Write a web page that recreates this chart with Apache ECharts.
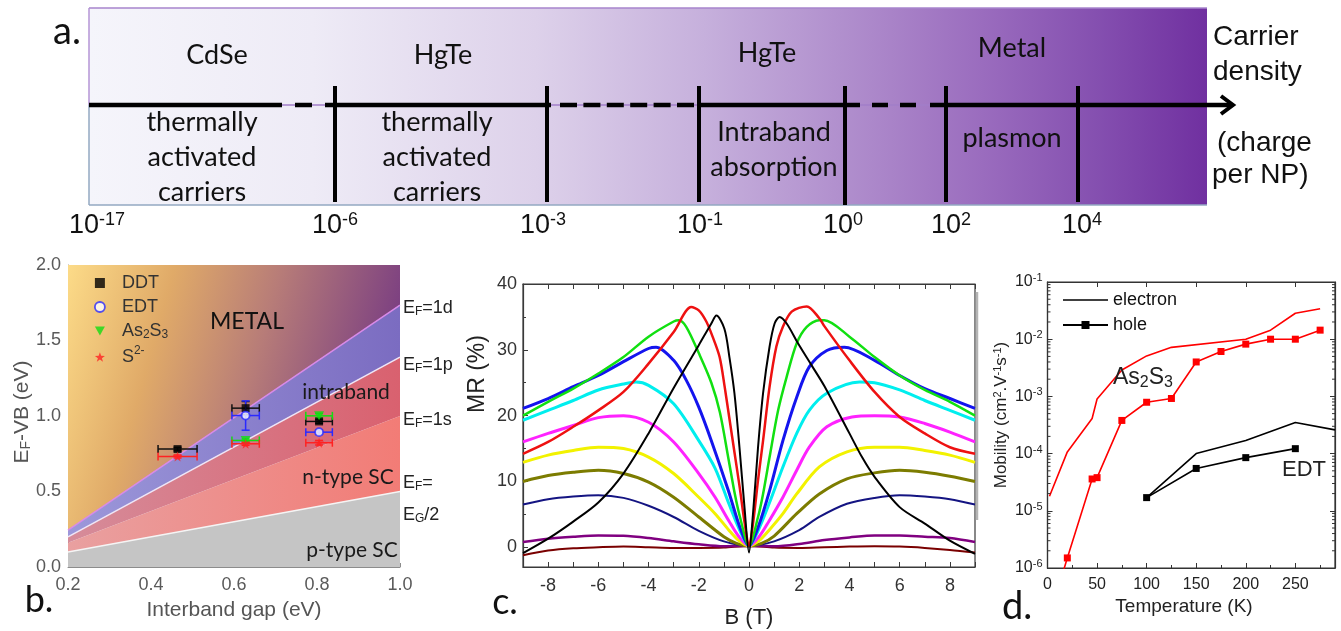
<!DOCTYPE html>
<html><head><meta charset="utf-8">
<script src="https://cdn.jsdelivr.net/npm/echarts@6/dist/echarts.min.js"></script>
<style>html,body{margin:0;padding:0;background:#fff}#main{width:1341px;height:631px}</style>
</head><body><div id="main"></div>
<script>
// ===================== DATA =====================
// Panel a (schematic carrier-density axis)
const aTickLabels = ['-17', '-6', '-3', '-1', '0', '2', '4'];
const aTopLabels = ['CdSe', 'HgTe', 'HgTe', 'Metal'];
const aBottomLabels = ['thermally\nactivated\ncarriers', 'thermally\nactivated\ncarriers', 'Intraband\nabsorption', 'plasmon'];

// Panel b: boundary lines [gap, E_F-VB]
const bLineBottom = [[0.2, 0.0], [1.0, 0.0]];
const bLineEgHalf = [[0.2, 0.10], [1.0, 0.50]];
const bLine1s = [[0.2, 0.16], [1.0, 1.00]];
const bLine1p = [[0.2, 0.20], [1.0, 1.39]];
const bLine1d = [[0.2, 0.245], [1.0, 1.735]];
const bLineTop = [[0.2, 2.0], [1.0, 2.0]];
// Panel b: measured points
const bDDT = [[0.464, 0.781], [0.628, 1.052], [0.805, 0.964]];
const bDDTxErr = [0.047, 0.033, 0.032];
const bDDTyErr = [0.012, 0.044, 0.012];
const bEDT = [[0.628, 1.003], [0.805, 0.893]];
const bEDTxErr = [0.033, 0.032];
const bEDTyErr = [0.097, 0.015];
const bAs2S3 = [[0.628, 0.838], [0.805, 1.001]];
const bAs2S3xErr = [0.033, 0.032];
const bAs2S3yErr = [0.01, 0.015];
const bS2 = [[0.464, 0.732], [0.628, 0.816], [0.805, 0.823]];
const bS2xErr = [0.047, 0.033, 0.032];
const bS2yErr = [0.01, 0.01, 0.015];

// Panel c: MR curves [B (T), MR (%)]
const cMaroon = [[-9,-1.2],[-8,-0.5],[-7,-0.15],[-6,0],[-5,0.1],[-4,0],[-3,-0.1],[-2,-0.1],[-1,-0.05],[0,0.2],[1,-0.05],[2,-0.1],[3,0],[4,0.1],[5,0.15],[6,0.1],[7,-0.1],[8,-0.4],[9,-0.8]];
const cPurple = [[-9,0.8],[-8,1.3],[-7,1.6],[-6,1.8],[-5,1.75],[-4,1.4],[-3,0.9],[-2,0.45],[-1,0.15],[0,0.2],[1,0.15],[2,0.5],[3,1.1],[4,1.5],[5,1.8],[6,1.8],[7,1.6],[8,1.4],[9,0.8]];
const cNavy = [[-9,6.5],[-8,7.3],[-7,7.7],[-6,7.9],[-5,7.5],[-4,6.3],[-3,4.6],[-2,2.5],[-1,0.9],[0,0.2],[1,0.9],[2,2.6],[2.8,4.6],[3.9,6.6],[5,7.5],[6,7.9],[7,7.7],[8,7.3],[9,6.5]];
const cOlive = [[-9,10],[-8,10.9],[-7,11.4],[-6,11.7],[-5,11.2],[-4,9.9],[-3,7.6],[-2,4.6],[-1,1.6],[-0.5,0.6],[0,0.2],[0.5,0.6],[1,1.7],[1.9,5.1],[2.8,8.1],[3.9,10.4],[5,11.3],[6,11.7],[7,11.4],[8,10.8],[9,10]];
const cYellow = [[-9,12.9],[-8,14],[-7,14.7],[-6,15.2],[-5,15],[-4,13.7],[-3,11.2],[-2,7.6],[-1.35,5.1],[-0.8,2.6],[-0.4,1],[0,0.2],[0.4,1],[0.8,2.6],[1.35,5.1],[1.9,8.1],[2.8,12.2],[3.9,14.5],[5,15.2],[6,15.2],[7,14.7],[8,14],[9,12.9]];
const cMagenta = [[-9,16],[-8,17.3],[-7,18.5],[-6,19.7],[-5,20],[-4,19],[-3,16],[-2,11.2],[-1.35,7.6],[-0.8,4],[-0.4,1.6],[0,0.2],[0.4,1.6],[0.8,4],[1.35,7.6],[1.9,11.7],[2.4,15.2],[3.1,18.3],[4.1,19.8],[5,20],[6,19.8],[7,18.8],[8,17.5],[9,16]];
const cCyan = [[-9,19.3],[-8,20.8],[-7,22.3],[-6,23.9],[-5,24.8],[-4.5,25.1],[-4,24.6],[-3,21.8],[-2,16.2],[-1.35,12],[-0.8,6.6],[-0.36,2.5],[0,0.2],[0.36,2.5],[0.8,6.6],[1.35,12.2],[1.9,17.3],[2.4,20.8],[3.1,23.4],[4.4,25.1],[5,25],[6,23.9],[7,22.3],[8,20.8],[9,19.3]];
const cBlue = [[-9,21.1],[-8,22.6],[-7,24.4],[-6,26.1],[-5,28.2],[-4,30.2],[-3.7,30.4],[-3,28.4],[-2.5,25.4],[-2,21.3],[-1.5,16.2],[-0.82,8.6],[-0.36,3],[0,0.2],[0.36,3],[0.82,8.6],[1.35,16.2],[1.9,22.8],[2.4,27.4],[3.1,29.9],[3.8,30.4],[5,28.4],[6,26.1],[7,24.1],[8,22.6],[9,21.1]];
const cGreen = [[-9,20],[-8,22.1],[-7,24.1],[-6,26.4],[-5,28.9],[-4,32],[-3,34.3],[-2.8,34.5],[-2.5,33.5],[-2,29.5],[-1.5,25],[-1.16,20.5],[-0.82,13.5],[-0.56,8],[-0.36,4.6],[0,0.2],[0.36,4.6],[0.56,8.1],[0.82,13.7],[1.16,20.8],[1.5,25.9],[1.9,31],[2.3,33.5],[2.8,34.5],[3,34.5],[4,32],[5,28.9],[6,26.1],[7,23.9],[8,22.1],[9,20]];
const cRed = [[-9,14.2],[-8,16],[-7,18.3],[-6,20.8],[-5,23.6],[-4,27.9],[-3,32.7],[-2.3,36.5],[-2,36],[-1.7,34.3],[-1.45,32],[-1.17,28.9],[-0.97,24.4],[-0.77,19.3],[-0.57,14.2],[-0.37,9.1],[-0.17,3.6],[0,0.2],[0.16,3.6],[0.36,10.2],[0.56,16.2],[0.82,24.4],[1.09,30.5],[1.35,33.5],[1.7,35.8],[2.3,36.6],[2.8,34.8],[3,33.6],[4,28.4],[5,23.6],[6,19.8],[7,17.3],[8,15.2],[9,14.2]];
const cBlack = [[-9,-0.9],[-8,1.3],[-7,3.9],[-6,6.8],[-5,11.2],[-4,17.3],[-3,24.2],[-2,30.7],[-1.5,34],[-1.3,35.2],[-0.98,33.2],[-0.78,28.9],[-0.58,23.4],[-0.38,15.2],[-0.18,6.1],[0,-0.8],[0.16,5.1],[0.36,15.2],[0.56,23.4],[0.82,30.5],[1.02,34],[1.22,35],[1.5,34],[1.95,31],[2.5,27.6],[3,24.5],[4,17.3],[4.5,13.7],[5,10.7],[6,6.1],[7,3.6],[8,1.0],[9,-1.0]];

// Panel d: mobility vs temperature
const dAsElecT = [2, 20, 45, 50, 75, 100, 125, 200, 225, 250, 275];
const dAsElecMu = [1.8e-5, 1.07e-4, 4.1e-4, 9e-4, 2.9e-3, 5.1e-3, 7.2e-3, 1.0e-2, 1.44e-2, 2.84e-2, 3.4e-2];
const dAsHoleT = [10, 20, 45, 50, 75, 100, 125, 150, 175, 200, 225, 250, 275];
const dAsHoleMu = [4e-7, 1.5e-6, 3.6e-5, 3.8e-5, 3.8e-4, 7.9e-4, 9.2e-4, 4.0e-3, 6.1e-3, 8.2e-3, 1.0e-2, 1.0e-2, 1.44e-2];
const dEdtElecT = [100, 150, 200, 250, 290];
const dEdtElecMu = [1.7e-5, 1.0e-4, 1.7e-4, 3.5e-4, 2.6e-4];
const dEdtHoleT = [100, 150, 200, 250];
const dEdtHoleMu = [1.7e-5, 5.5e-5, 8.5e-5, 1.22e-4];

// ===================== LAYOUT / STYLE =====================
const FA = 'Lato, "Open Sans", sans-serif';
const FS = '"Liberation Sans", Arial, sans-serif';
const zip = (xs, ys) => xs.map((x, i) => [x, ys[i]]);

const aBox = {left: 89, right: 1207, top: 8, mid: 105, bottom: 205};
const aTickX = [335, 547, 699, 845, 946, 1078];
const aTickLabelX = [97, 335, 543, 700, 843, 951, 1082];
const aTopPos = [[217, 55], [443, 55], [767, 53], [1012, 48]];
const aBottomPos = [[202, 157], [437, 157], [774, 150], [1012, 138]];

function txt(x, y, text, size, o) {
  o = o || {};
  const st = {text, fontSize: size, fontFamily: o.font || FS, fill: o.color || '#111',
    align: o.align || 'center', verticalAlign: 'middle', fontWeight: o.weight || 'normal'};
  if (o.lh) st.lineHeight = o.lh;
  if (o.rich) st.rich = o.rich;
  return {type: 'text', x, y, rotation: o.rot || 0, z: 100, style: st};
}
function seg(x1, y1, x2, y2, w, color, dash) {
  const st = {stroke: color || '#000', lineWidth: w};
  if (dash) st.lineDash = dash;
  return {type: 'line', z: 50, shape: {x1, y1, x2, y2}, style: st};
}
const supR = (s, c, up) => ({fontSize: s, lineHeight: s, fill: c, fontFamily: FS, padding: up ? [0, 0, Math.round(s * 0.65), 0] : [Math.round(s * 0.55), 0, 0, 0]});

const graphics = [];
// panel a box
graphics.push({type: 'rect', z: 10, shape: {x: aBox.left, y: aBox.top, width: aBox.right - aBox.left, height: aBox.bottom - aBox.top},
  style: {fill: new echarts.graphic.LinearGradient(0, 0, 1, 0, [
    {offset: 0, color: '#f5f5fb'}, {offset: 0.2, color: '#eeebf6'}, {offset: 0.4, color: '#ddd1ea'},
    {offset: 0.55, color: '#c6b0dc'}, {offset: 0.7, color: '#ac88ca'}, {offset: 0.8, color: '#9a6cbe'},
    {offset: 0.9, color: '#8550b0'}, {offset: 1, color: '#7030a0'}])}});
graphics.push(seg(aBox.left, aBox.top, aBox.right, aBox.top, 1.5, '#a784cc'));
graphics.push(seg(aBox.left, aBox.top, aBox.left, aBox.mid, 1.5, '#b495d6'));
graphics.push(seg(aBox.left, aBox.mid, aBox.left, aBox.bottom, 1.5, '#93a8c2'));
graphics.push(seg(aBox.left, aBox.bottom, aBox.right, aBox.bottom, 1.5, '#93a8c2'));
graphics.push(seg(aBox.left, aBox.mid, aBox.right, aBox.mid, 1.5, '#a27ec8'));
// axis line: solid and dashed parts
graphics.push(seg(89, 105, 282, 105, 4.5));
graphics.push(seg(295, 105, 312, 105, 4.5));
graphics.push(seg(325, 105, 551, 105, 4.5));
graphics.push(seg(560, 105, 694, 105, 4.5, '#000', [17, 6.4]));
graphics.push(seg(698, 105, 860, 105, 4.5));
graphics.push(seg(872, 105, 918, 105, 4.5, '#000', [16, 12]));
graphics.push(seg(930, 105, 1232, 105, 4.5));
graphics.push({type: 'polyline', z: 51, shape: {points: [[1221, 96], [1233, 105], [1221, 114]]}, style: {stroke: '#000', lineWidth: 4, fill: null}});
aTickX.forEach((x, i) => graphics.push(seg(x, 86, x, i === 3 ? 205 : 202, 4)));
aTickLabels.forEach((t, i) => graphics.push(txt(aTickLabelX[i], 226, '10{s|' + t + '}', 27,
  {rich: {s: supR(18, '#111', true)}, lh: 27})));
aTopLabels.forEach((t, i) => graphics.push(txt(aTopPos[i][0], aTopPos[i][1], t, 27, {font: FA})));
aBottomLabels.forEach((t, i) => graphics.push(txt(aBottomPos[i][0], aBottomPos[i][1], t, 27, {font: FA, lh: 35})));
graphics.push(txt(1213, 37, 'Carrier', 28, {align: 'left'}));
graphics.push(txt(1213, 72, 'density', 28, {align: 'left'}));
graphics.push(txt(1217, 143, '(charge', 28, {align: 'left'}));
graphics.push(txt(1212, 175, 'per NP)', 28, {align: 'left'}));
graphics.push(txt(67, 32, 'a.', 38, {font: FA}));

// panel b texts
graphics.push(txt(247, 322, 'METAL', 23, {font: FA}));
graphics.push(txt(346, 392, 'intraband', 21, {font: FA, color: '#1a1a1a'}));
graphics.push(txt(348, 477, 'n-type SC', 21, {font: FA, color: '#1a1a1a'}));
graphics.push(txt(352, 550, 'p-type SC', 21, {font: FA, color: '#1a1a1a'}));
const subF = {b: supR(12, '#222', false)};
graphics.push(txt(403, 308, 'E{b|F}=1d', 18, {align: 'left', color: '#222', rich: subF, lh: 18}));
graphics.push(txt(403, 365, 'E{b|F}=1p', 18, {align: 'left', color: '#222', rich: subF, lh: 18}));
graphics.push(txt(403, 420, 'E{b|F}=1s', 18, {align: 'left', color: '#222', rich: subF, lh: 18}));
graphics.push(txt(403, 483, 'E{b|F}=', 18, {align: 'left', color: '#222', rich: subF, lh: 18}));
graphics.push(txt(403, 515, 'E{b|G}/2', 18, {align: 'left', color: '#222', rich: subF, lh: 18}));
graphics.push(txt(234, 610, 'Interband gap (eV)', 21, {color: '#555'}));
graphics.push(txt(22, 412, 'E{b|F}-VB (eV)', 21, {color: '#555', rot: Math.PI / 2, lh: 21, rich: {b: supR(14, '#555', false)}}));
graphics.push(txt(39, 600, 'b.', 36, {font: FA}));

// panel c texts
graphics.push(txt(478, 374, 'MR (%)', 23, {color: '#222', rot: Math.PI / 2}));
graphics.push(txt(749, 618, 'B (T)', 22, {color: '#222'}));
graphics.push(txt(505, 602, 'c.', 36, {font: FA}));
graphics.push(seg(977, 292, 977, 520, 2.5, '#b4b4b4'));

// panel d texts
graphics.push(txt(1001, 415, 'Mobility (cm{s|2}.V{s|-1}s{s|-1})', 17, {color: '#222', rot: Math.PI / 2, lh: 17, rich: {s: supR(11, '#222', true)}}));
graphics.push(txt(1184, 607, 'Temperature (K)', 19, {color: '#222'}));
graphics.push(txt(1113, 378, 'As{b|2}S{b|3}', 23, {align: 'left', color: '#222', lh: 23, rich: {b: supR(16, '#222', false)}}));
graphics.push(txt(1282, 470, 'EDT', 22, {align: 'left', color: '#222'}));
graphics.push(txt(1017, 607, 'd.', 38, {font: FA}));

// ===================== SERIES =====================
const bBounds = [bLineBottom, bLineEgHalf, bLine1s, bLine1p, bLine1d, bLineTop];
const bBandFills = [
  '#c5c5c5',
  {type: 'linear', x: 0, y: 0, x2: 1, y2: 0, colorStops: [{offset: 0, color: '#e9a0a0'}, {offset: 1, color: '#f27c76'}]},
  {type: 'linear', x: 0, y: 0, x2: 1, y2: 0, colorStops: [{offset: 0, color: '#d68c9a'}, {offset: 1, color: '#d9616f'}]},
  {type: 'linear', x: 0, y: 0, x2: 1, y2: 0, colorStops: [{offset: 0, color: '#9c98da'}, {offset: 1, color: '#7b6cc1'}]},
  {type: 'linear', x: 0, y: 0, x2: 1, y2: 0.35, colorStops: [{offset: 0, color: '#fcdb88'}, {offset: 0.3, color: '#e0aa68'}, {offset: 0.6, color: '#b77c78'}, {offset: 1, color: '#763a82'}]}
];
const series = [];
series.push({
  type: 'custom', name: 'bands', xAxisIndex: 0, yAxisIndex: 0, silent: true, z: 1,
  data: bBandFills.map(() => [0.6, 1.0]),
  renderItem: function (params, api) {
    const lo = bBounds[params.dataIndex], hi = bBounds[params.dataIndex + 1];
    const pts = [api.coord(lo[0]), api.coord(lo[1]), api.coord(hi[1]), api.coord(hi[0])];
    return {type: 'polygon', shape: {points: pts}, style: {fill: bBandFills[params.dataIndex]}};
  }
});
const bLineStyles = [[bLineEgHalf, '#f5f5f5'], [bLine1p, '#efe6f6'], [bLine1d, '#d88ae8']];
bLineStyles.forEach(([d, c], i) => series.push({type: 'line', name: 'bnd' + i, xAxisIndex: 0, yAxisIndex: 0, data: d,
  showSymbol: false, silent: true, z: 2, lineStyle: {color: c, width: 1.5}}));

function errSeries(pts, xe, ye, color) {
  return {
    type: 'custom', name: 'err', xAxisIndex: 0, yAxisIndex: 0, z: 3, silent: true,
    data: pts.map((p, i) => [p[0], p[1], xe[i], ye[i]]),
    renderItem: function (params, api) {
      const x = api.value(0), y = api.value(1), dx = api.value(2), dy = api.value(3);
      const L = api.coord([x - dx, y]), R = api.coord([x + dx, y]);
      const T = api.coord([x, y + dy]), B = api.coord([x, y - dy]);
      const st = {stroke: color, lineWidth: 1.5};
      const ch = [
        {type: 'line', shape: {x1: L[0], y1: L[1], x2: R[0], y2: R[1]}, style: st},
        {type: 'line', shape: {x1: L[0], y1: L[1] - 4, x2: L[0], y2: L[1] + 4}, style: st},
        {type: 'line', shape: {x1: R[0], y1: R[1] - 4, x2: R[0], y2: R[1] + 4}, style: st},
        {type: 'line', shape: {x1: T[0], y1: T[1], x2: B[0], y2: B[1]}, style: st},
        {type: 'line', shape: {x1: T[0] - 4, y1: T[1], x2: T[0] + 4, y2: T[1]}, style: st},
        {type: 'line', shape: {x1: B[0] - 4, y1: B[1], x2: B[0] + 4, y2: B[1]}, style: st}
      ];
      return {type: 'group', children: ch};
    }
  };
}
const starPath = 'path://M0,-10 L2.35,-3.24 9.51,-3.09 3.8,1.24 5.88,8.09 0,4 -5.88,8.09 -3.8,1.24 -9.51,-3.09 -2.35,-3.24Z';
const triDown = 'path://M0,0 L10,0 L5,9Z';
series.push(errSeries(bDDT, bDDTxErr, bDDTyErr, '#111'));
series.push(errSeries(bEDT, bEDTxErr, bEDTyErr, '#2a2aff'));
series.push(errSeries(bAs2S3, bAs2S3xErr, bAs2S3yErr, '#11dd11'));
series.push(errSeries(bS2, bS2xErr, bS2yErr, '#ff2222'));
series.push({type: 'scatter', name: 'DDT', xAxisIndex: 0, yAxisIndex: 0, z: 4, data: bDDT, symbol: 'rect', symbolSize: 8, itemStyle: {color: '#000'}});
series.push({type: 'scatter', name: 'EDT', xAxisIndex: 0, yAxisIndex: 0, z: 5, data: bEDT, symbol: 'circle', symbolSize: 8, itemStyle: {color: '#fff', borderColor: '#2a2aff', borderWidth: 1.8}});
series.push({type: 'scatter', name: 'As2S3', xAxisIndex: 0, yAxisIndex: 0, z: 4, data: bAs2S3, symbol: triDown, symbolSize: [10, 9], itemStyle: {color: '#11dd11'}});
series.push({type: 'scatter', name: 'S2-', xAxisIndex: 0, yAxisIndex: 0, z: 4, data: bS2, symbol: starPath, symbolSize: 10, itemStyle: {color: '#ff2222'}});

// panel c
const cSeriesDefs = [
  ['maroon', cMaroon, '#7a0000', 2], ['purple', cPurple, '#800080', 2.5], ['navy', cNavy, '#141482', 2],
  ['olive', cOlive, '#7c7c00', 3], ['yellow', cYellow, '#f2f200', 3], ['magenta', cMagenta, '#ff22ff', 3],
  ['cyan', cCyan, '#00eeee', 3], ['blue', cBlue, '#1414ee', 3], ['green', cGreen, '#11e011', 2.5],
  ['red', cRed, '#ee1111', 2.5], ['black', cBlack, '#000000', 2]
];
cSeriesDefs.forEach(([n, d, c, w]) => series.push({type: 'line', name: 'c-' + n, xAxisIndex: 1, yAxisIndex: 1, data: d,
  showSymbol: false, smooth: 0.3, lineStyle: {color: c, width: w}, itemStyle: {color: c}}));

// panel d
series.push({type: 'line', name: 'As2S3-e', xAxisIndex: 3, yAxisIndex: 2, data: zip(dAsElecT, dAsElecMu), symbol: 'none', lineStyle: {color: '#ff0000', width: 1.6}});
series.push({type: 'line', name: 'As2S3-h', xAxisIndex: 3, yAxisIndex: 2, data: zip(dAsHoleT, dAsHoleMu), symbol: 'rect', symbolSize: 7, showAllSymbol: true, lineStyle: {color: '#ff0000', width: 1.6}, itemStyle: {color: '#ff0000'}});
series.push({type: 'line', name: 'electron', xAxisIndex: 3, yAxisIndex: 2, data: zip(dEdtElecT, dEdtElecMu), symbol: 'none', lineStyle: {color: '#000', width: 1.6}, itemStyle: {color: '#000'}});
series.push({type: 'line', name: 'hole', xAxisIndex: 3, yAxisIndex: 2, data: zip(dEdtHoleT, dEdtHoleMu), symbol: 'rect', symbolSize: 7, showAllSymbol: true, lineStyle: {color: '#000', width: 1.6}, itemStyle: {color: '#000'}});
// log-axis minor ticks (2..9 within each decade), drawn on both vertical frame sides
const dMinorTickValues = [];
for (let e = -6; e < -1; e++) for (let m = 2; m <= 9; m++) dMinorTickValues.push(m * Math.pow(10, e));
series.push({
  type: 'custom', name: 'dMinor', xAxisIndex: 3, yAxisIndex: 2, silent: true, z: 6,
  data: dMinorTickValues.map(v => [0, v]),
  renderItem: function (params, api) {
    const v = api.value(1);
    const L = api.coord([0, v]), R = api.coord([290, v]);
    const st = {stroke: '#333', lineWidth: 1};
    return {type: 'group', children: [
      {type: 'line', shape: {x1: L[0], y1: L[1], x2: L[0] + 3, y2: L[1]}, style: st},
      {type: 'line', shape: {x1: R[0], y1: R[1], x2: R[0] - 3, y2: R[1]}, style: st}
    ]};
  }
});

// ===================== OPTION =====================
const axC = '#3a3a3a';
const option = {
  animation: false,
  textStyle: {fontFamily: FS},
  grid: [
    {left: 68, top: 265, width: 332, height: 302},
    {left: 523, top: 284, width: 452, height: 283, show: true, borderColor: axC, borderWidth: 1.2},
    {left: 1047.5, top: 282, width: 287.5, height: 286, show: true, borderColor: '#333', borderWidth: 1.2}
  ],
  xAxis: [
    {gridIndex: 0, type: 'value', min: 0.2, max: 1.0, interval: 0.2, splitLine: {show: false},
      axisLine: {onZero: false, lineStyle: {color: '#8c8c8c'}}, axisTick: {inside: true, length: 4, lineStyle: {color: '#8c8c8c'}},
      axisLabel: {color: '#5a5a5a', fontSize: 18, margin: 9, formatter: v => v.toFixed(1)}},
    {gridIndex: 1, type: 'value', min: -9, max: 9, interval: 1, splitLine: {show: false},
      axisLine: {onZero: false, lineStyle: {color: axC, width: 1.2}}, axisTick: {inside: true, length: 5, lineStyle: {color: axC}},
      axisLabel: {color: '#333', fontSize: 18, margin: 10, formatter: v => (Math.round(v) % 2 === 0 ? String(Math.round(v)) : '')}},
    {gridIndex: 1, type: 'value', position: 'top', min: -9, max: 9, interval: 1, splitLine: {show: false},
      axisLine: {onZero: false, lineStyle: {color: axC, width: 1.2}}, axisTick: {inside: true, length: 5, lineStyle: {color: axC}}, axisLabel: {show: false}},
    {gridIndex: 2, type: 'value', min: 0, max: 290, interval: 50, splitLine: {show: false},
      axisLine: {onZero: false, lineStyle: {color: '#333', width: 1.2}}, axisTick: {inside: true, length: 5, lineStyle: {color: '#333'}},
      minorTick: {show: true, splitNumber: 2, length: 3, lineStyle: {color: '#333'}},
      axisLabel: {color: '#222', fontSize: 16, margin: 9, formatter: v => (v % 50 === 0 ? String(v) : '')}},
    {gridIndex: 2, type: 'value', position: 'top', min: 0, max: 290, interval: 50, splitLine: {show: false},
      axisLine: {onZero: false, lineStyle: {color: '#333', width: 1.2}}, axisTick: {inside: true, length: 5, lineStyle: {color: '#333'}}, axisLabel: {show: false}}
  ],
  yAxis: [
    {gridIndex: 0, type: 'value', min: 0, max: 2, interval: 0.5, splitLine: {show: false},
      axisLine: {show: true, onZero: false, lineStyle: {color: '#8c8c8c'}}, axisTick: {show: true, inside: true, length: 4, lineStyle: {color: '#8c8c8c'}},
      axisLabel: {color: '#5a5a5a', fontSize: 18, margin: 7, formatter: v => v.toFixed(1)}},
    {gridIndex: 1, type: 'value', min: -3, max: 40, splitNumber: 5, splitLine: {show: false},
      axisLine: {show: true, onZero: false, lineStyle: {color: axC, width: 1.2}}, axisTick: {show: true, inside: true, length: 5, lineStyle: {color: axC}},
      minorTick: {show: true, splitNumber: 2, length: 3, lineStyle: {color: axC}},
      axisLabel: {color: '#333', fontSize: 18, margin: 6, formatter: v => (v % 10 === 0 ? String(v) : '')}},
    {gridIndex: 2, type: 'log', logBase: 10, min: 1e-6, max: 1e-1, splitNumber: 5, splitLine: {show: false},
      axisLine: {show: true, onZero: false, lineStyle: {color: '#333', width: 1.2}}, axisTick: {show: true, inside: true, length: 5, lineStyle: {color: '#333'}},
      axisLabel: {color: '#222', fontSize: 16, margin: 5, lineHeight: 16,
        formatter: v => '10{s|' + Math.round(Math.log10(v)) + '}',
        rich: {s: {fontSize: 11, lineHeight: 11, color: '#222', padding: [0, 0, 8, 0]}}}},
    {gridIndex: 2, type: 'log', logBase: 10, position: 'right', min: 1e-6, max: 1e-1, splitNumber: 5, splitLine: {show: false},
      axisLine: {show: true, onZero: false, lineStyle: {color: '#333', width: 1.2}}, axisTick: {show: true, inside: true, length: 5, lineStyle: {color: '#333'}}, axisLabel: {show: false}}
  ],
  legend: [
    {orient: 'vertical', left: 89, top: 268, itemWidth: 10, itemHeight: 10, itemGap: 4,
      data: [
        {name: 'DDT', icon: 'rect'},
        {name: 'EDT', icon: 'circle', itemStyle: {color: '#fff', borderColor: '#2a2aff', borderWidth: 1.8}},
        {name: 'As2S3', icon: triDown},
        {name: 'S2-', icon: starPath}
      ],
      formatter: n => (n === 'As2S3' ? 'As{b|2}S{b|3}' : n === 'S2-' ? 'S{p|2-}' : n),
      textStyle: {fontSize: 18, color: '#333', lineHeight: 20, padding: [0, 0, 0, 12],
        rich: {b: {fontSize: 12, lineHeight: 12, color: '#333', padding: [8, 0, 0, 0]}, p: {fontSize: 12, lineHeight: 12, color: '#333', padding: [0, 0, 12, 0]}}}},
    {orient: 'vertical', left: 1057, top: 286, itemWidth: 45, itemHeight: 10, itemGap: 7,
      data: [{name: 'electron', icon: 'path://M0,4.2 L45,4.2 L45,5.8 L0,5.8Z'}, {name: 'hole'}],
      textStyle: {fontSize: 18, color: '#111'}}
  ],
  graphic: {elements: graphics},
  series: series
};
const chart = echarts.init(document.getElementById('main'), null, {renderer: 'canvas'});
chart.setOption(option);
</script>
</body></html>
